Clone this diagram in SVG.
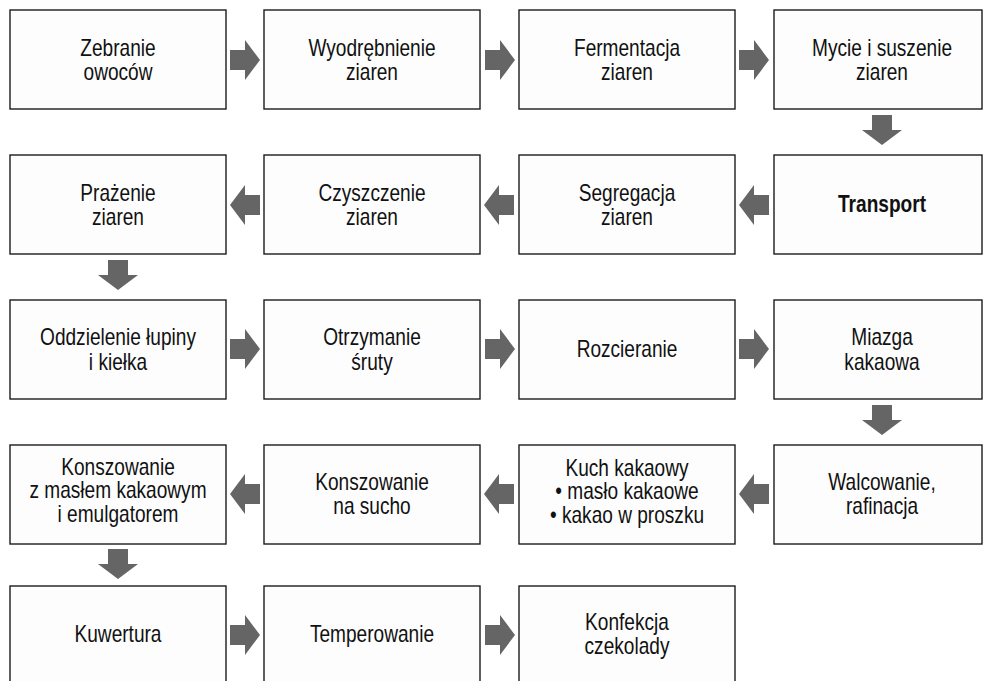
<svg xmlns="http://www.w3.org/2000/svg" xmlns:xlink="http://www.w3.org/1999/xlink" width="983" height="681" viewBox="0 0 983 681">
<style>
.box{fill:#fdfdfd;stroke:#1c1c1c;stroke-width:1.4}
.t{font-family:"Liberation Sans",Arial,sans-serif;font-size:23px;fill:#111;text-anchor:middle}
.b{font-weight:bold}
.arr{fill:#656565}
</style>
<defs>
<path id="a" d="M0,-10H15V-20L30,0L15,20V10H0Z"/>
</defs>
<rect width="983" height="681" fill="#ffffff"/>
<g id="n1"><rect class="box" x="10" y="10" width="216" height="99"/><g transform="translate(118,0) scale(0.83,1)"><text class="t" x="0" y="56">Zebranie</text><text class="t" x="0" y="80">owoców</text></g></g>
<g id="n2"><rect class="box" x="264" y="10" width="216" height="99"/><g transform="translate(372,0) scale(0.83,1)"><text class="t" x="0" y="56">Wyodrębnienie</text><text class="t" x="0" y="80">ziaren</text></g></g>
<g id="n3"><rect class="box" x="519" y="10" width="216" height="99"/><g transform="translate(627,0) scale(0.83,1)"><text class="t" x="0" y="56">Fermentacja</text><text class="t" x="0" y="80">ziaren</text></g></g>
<g id="n4"><rect class="box" x="774" y="10" width="208" height="99"/><g transform="translate(882,0) scale(0.83,1)"><text class="t" x="0" y="56">Mycie i suszenie</text><text class="t" x="0" y="80">ziaren</text></g></g>
<g id="n5"><rect class="box" x="774" y="155" width="208" height="99"/><g transform="translate(882,0) scale(0.83,1)"><text class="t b" x="0" y="212">Transport</text></g></g>
<g id="n6"><rect class="box" x="519" y="155" width="216" height="99"/><g transform="translate(627,0) scale(0.83,1)"><text class="t" x="0" y="201">Segregacja</text><text class="t" x="0" y="225">ziaren</text></g></g>
<g id="n7"><rect class="box" x="264" y="155" width="216" height="99"/><g transform="translate(372,0) scale(0.83,1)"><text class="t" x="0" y="201">Czyszczenie</text><text class="t" x="0" y="225">ziaren</text></g></g>
<g id="n8"><rect class="box" x="10" y="155" width="216" height="99"/><g transform="translate(118,0) scale(0.83,1)"><text class="t" x="0" y="201">Prażenie</text><text class="t" x="0" y="225">ziaren</text></g></g>
<g id="n9"><rect class="box" x="10" y="300" width="216" height="99"/><g transform="translate(118,0) scale(0.83,1)"><text class="t" x="0" y="345">Oddzielenie łupiny</text><text class="t" x="0" y="370">i kiełka</text></g></g>
<g id="n10"><rect class="box" x="264" y="300" width="216" height="99"/><g transform="translate(372,0) scale(0.83,1)"><text class="t" x="0" y="345">Otrzymanie</text><text class="t" x="0" y="370">śruty</text></g></g>
<g id="n11"><rect class="box" x="519" y="300" width="216" height="99"/><g transform="translate(627,0) scale(0.83,1)"><text class="t" x="0" y="357">Rozcieranie</text></g></g>
<g id="n12"><rect class="box" x="774" y="300" width="208" height="99"/><g transform="translate(882,0) scale(0.83,1)"><text class="t" x="0" y="345">Miazga</text><text class="t" x="0" y="370">kakaowa</text></g></g>
<g id="n13"><rect class="box" x="774" y="445" width="208" height="99"/><g transform="translate(882,0) scale(0.83,1)"><text class="t" x="0" y="490">Walcowanie,</text><text class="t" x="0" y="514">rafinacja</text></g></g>
<g id="n14"><rect class="box" x="519" y="445" width="216" height="99"/><g transform="translate(627,0) scale(0.83,1)"><text class="t" x="0" y="476">Kuch kakaowy</text><text class="t" x="0" y="499">• masło kakaowe</text><text class="t" x="0" y="523">• kakao w proszku</text></g></g>
<g id="n15"><rect class="box" x="264" y="445" width="216" height="99"/><g transform="translate(372,0) scale(0.83,1)"><text class="t" x="0" y="490">Konszowanie</text><text class="t" x="0" y="514">na sucho</text></g></g>
<g id="n16"><rect class="box" x="10" y="445" width="216" height="99"/><g transform="translate(118,0) scale(0.83,1)"><text class="t" x="0" y="475">Konszowanie</text><text class="t" x="0" y="498.5">z masłem kakaowym</text><text class="t" x="0" y="522">i emulgatorem</text></g></g>
<g id="n17"><rect class="box" x="10" y="586" width="216" height="99"/><g transform="translate(118,0) scale(0.83,1)"><text class="t" x="0" y="642">Kuwertura</text></g></g>
<g id="n18"><rect class="box" x="264" y="586" width="216" height="99"/><g transform="translate(372,0) scale(0.83,1)"><text class="t" x="0" y="642">Temperowanie</text></g></g>
<g id="n19"><rect class="box" x="519" y="586" width="216" height="99"/><g transform="translate(627,0) scale(0.83,1)"><text class="t" x="0" y="630">Konfekcja</text><text class="t" x="0" y="654">czekolady</text></g></g>
<g id="connectors" class="arr">
<use xlink:href="#a" href="#a" transform="translate(230,60)"/>
<use xlink:href="#a" href="#a" transform="translate(485,60)"/>
<use xlink:href="#a" href="#a" transform="translate(739,60)"/>
<use xlink:href="#a" href="#a" transform="translate(882,115) rotate(90)"/>
<use xlink:href="#a" href="#a" transform="translate(769,205) rotate(180)"/>
<use xlink:href="#a" href="#a" transform="translate(514,205) rotate(180)"/>
<use xlink:href="#a" href="#a" transform="translate(260,205) rotate(180)"/>
<use xlink:href="#a" href="#a" transform="translate(118,260) rotate(90)"/>
<use xlink:href="#a" href="#a" transform="translate(230,349)"/>
<use xlink:href="#a" href="#a" transform="translate(485,349)"/>
<use xlink:href="#a" href="#a" transform="translate(739,349)"/>
<use xlink:href="#a" href="#a" transform="translate(882,405) rotate(90)"/>
<use xlink:href="#a" href="#a" transform="translate(769,494) rotate(180)"/>
<use xlink:href="#a" href="#a" transform="translate(514,494) rotate(180)"/>
<use xlink:href="#a" href="#a" transform="translate(260,494) rotate(180)"/>
<use xlink:href="#a" href="#a" transform="translate(118,549) rotate(90)"/>
<use xlink:href="#a" href="#a" transform="translate(230,635)"/>
<use xlink:href="#a" href="#a" transform="translate(485,635)"/>
</g>
</svg>
